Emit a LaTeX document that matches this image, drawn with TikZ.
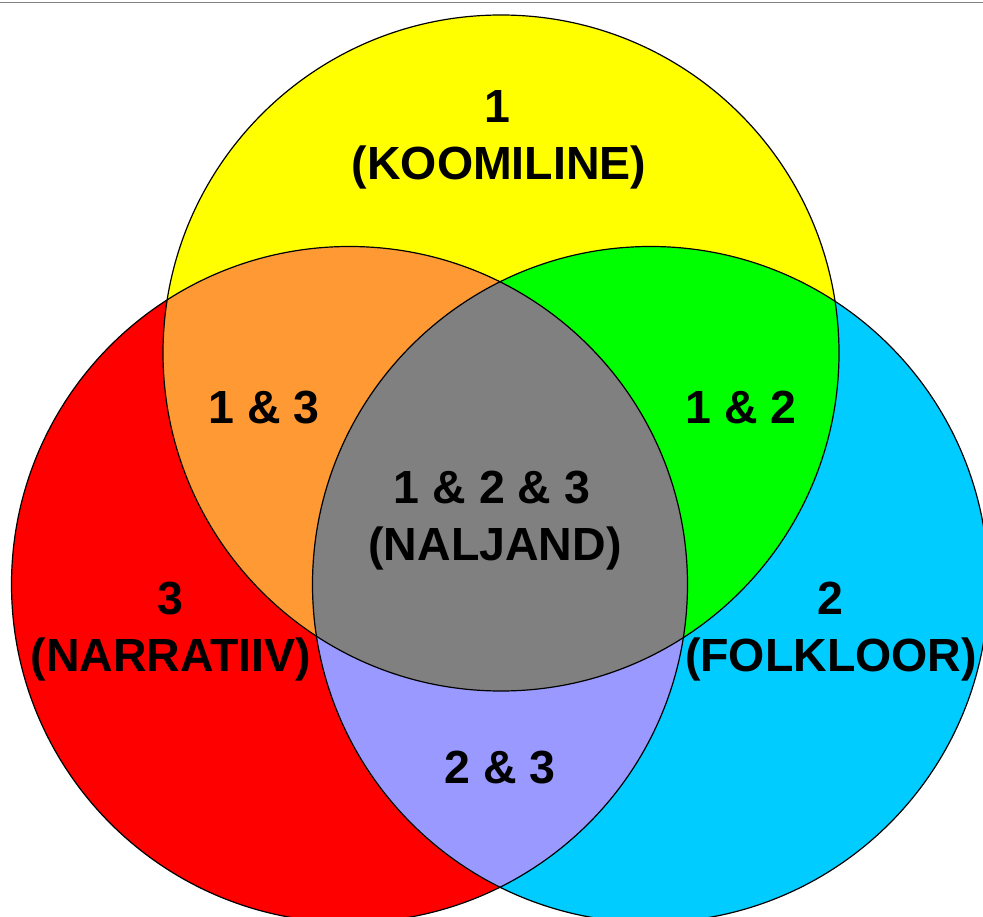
\documentclass[tikz,border=0pt]{standalone}
\usepackage{fontspec}
\setmainfont{Liberation Sans}
\definecolor{cyel}{HTML}{FFFF00}
\definecolor{cred}{HTML}{FF0000}
\definecolor{cblu}{HTML}{00CCFF}
\definecolor{corg}{HTML}{FF9933}
\definecolor{cgrn}{HTML}{00FF00}
\definecolor{cgry}{HTML}{808080}
\definecolor{clav}{HTML}{9999FF}
\definecolor{ctop}{HTML}{7F7F7F}
\tikzset{
  lbl/.style={anchor=base, inner sep=0pt, font=\fontsize{46.5}{54}\selectfont\bfseries, text=black},
  ring/.style={draw=black, line width=1.2pt}
}
\begin{document}
\begin{tikzpicture}[x=1pt,y=-1pt]
\useasboundingbox (0,0) rectangle (983,917);
\clip (0,0) rectangle (983,917);
\fill[white] (0,0) rectangle (983,917);
\coordinate (cY) at (501,353);
\coordinate (cR) at (349.5,584.5);
\coordinate (cB) at (650.5,584.5);
\def\rr{338pt}
% base fills
\fill[cyel] (cY) circle[radius=\rr];
\fill[cred] (cR) circle[radius=\rr];
\fill[cblu] (cB) circle[radius=\rr];
% pairwise overlaps
\begin{scope}
  \clip (cY) circle[radius=\rr];
  \fill[corg] (cR) circle[radius=\rr];
  \fill[cgrn] (cB) circle[radius=\rr];
\end{scope}
\begin{scope}
  \clip (cR) circle[radius=\rr];
  \fill[clav] (cB) circle[radius=\rr];
  \clip (cB) circle[radius=\rr];
  \fill[cgry] (cY) circle[radius=\rr];
\end{scope}
% outlines
\draw[ring] (cY) circle[radius=\rr];
\draw[ring] (cR) circle[radius=\rr];
\draw[ring] (cB) circle[radius=\rr];
% top rule
\draw[ctop, line width=1.8pt] (0,2.5) -- (983,2.5);
% labels
\node[lbl] (t1a) at (497,123) {1};
\node[lbl] (t1b) at (499,180) {(KOOMILINE)};
\node[lbl] (t13) at (264,423) {1 \& 3};
\node[lbl] (t12) at (741,423) {1 \& 2};
\node[lbl] (t123a) at (492,503) {1 \& 2 \& 3};
\node[lbl] (t123b) at (495,560) {(NALJAND)};
\node[lbl] (t3a) at (170,614) {3};
\node[lbl] (t3b) at (171,671) {(NARRATIIV)};
\node[lbl] (t2a) at (830,614) {2};
\node[lbl] (t2b) at (831,671) {(FOLKLOOR)};
\node[lbl] (t23) at (500,783) {2 \& 3};
\end{tikzpicture}
\end{document}
